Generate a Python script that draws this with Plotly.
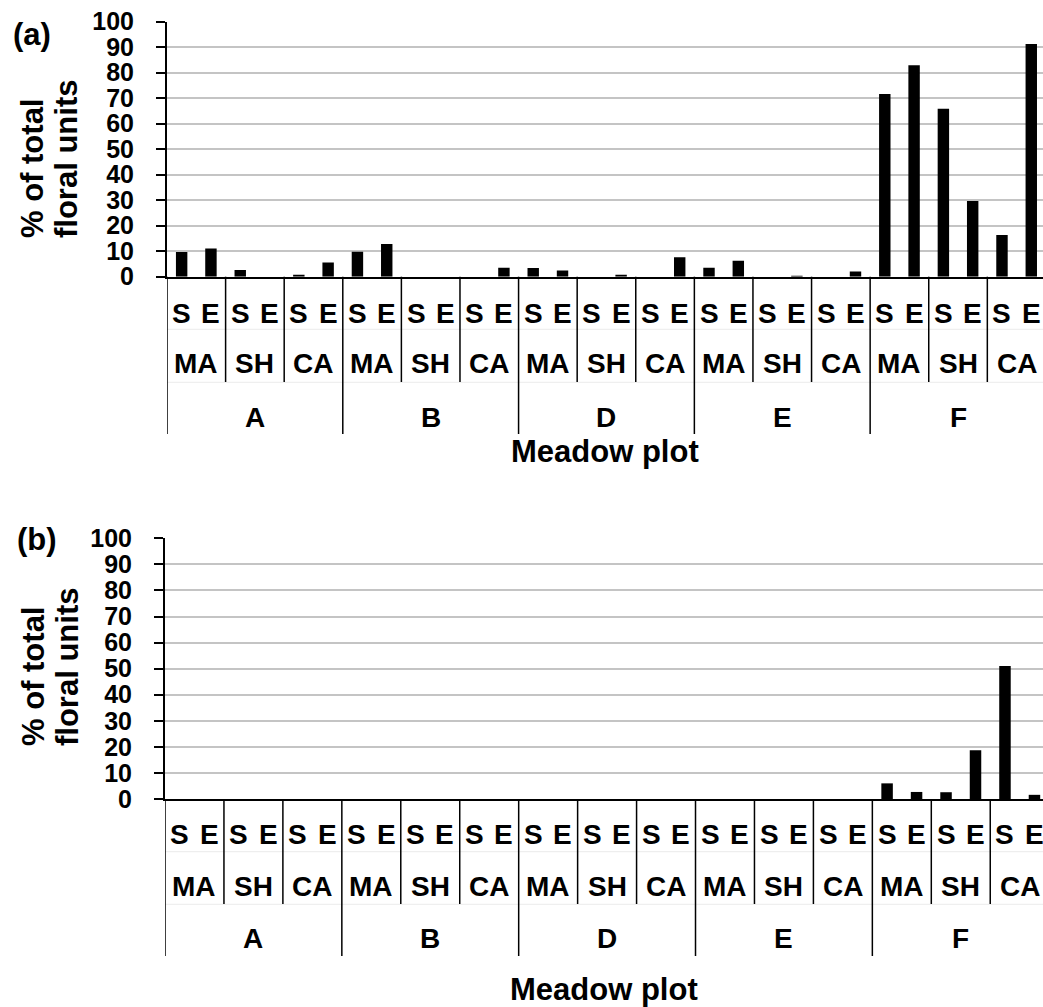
import plotly.graph_objects as go

# Category hierarchy along the x axis
plots = ["A", "B", "D", "E", "F"]
habitats = ["MA", "SH", "CA"]
periods = ["S", "E"]

# % of total floral units, ordered plot -> habitat -> period
pct_a = [9.7, 11.1, 2.6, 0.0, 0.5, 5.6,
         9.8, 12.8, 0.0, 0.0, 0.0, 3.5,
         3.4, 2.4, 0.0, 0.7, 0.0, 7.6,
         3.5, 6.3, 0.0, 0.2, 0.0, 2.0,
         71.6, 82.9, 65.9, 29.7, 16.4, 91.3]
pct_b = [0.0, 0.0, 0.0, 0.0, 0.0, 0.0,
         0.0, 0.0, 0.0, 0.0, 0.0, 0.0,
         0.0, 0.0, 0.0, 0.0, 0.0, 0.0,
         0.0, 0.0, 0.0, 0.0, 0.0, 0.0,
         6.0, 2.7, 2.6, 18.7, 51.0, 1.6]
y_ticks = [0, 10, 20, 30, 40, 50, 60, 70, 80, 90, 100]
panel_tags = ["(a)", "(b)"]
y_title = ["% of total", "floral units"]
x_title = "Meadow plot"

W, H = 1043, 1007
FONT = "Liberation Sans, Arial, sans-serif"


def py(p):
    return 1 - p / H


def px(p):
    return p / W


n_cat = len(plots) * len(habitats) * len(periods)
idx = list(range(n_cat))

panels = [
    dict(vals=pct_a, xa="x", ya="y", left=167, right_rng=29.4,
         top=21.7, base=276.7, rows=(313, 363.5, 417.5), title_y=451.5,
         sep=(329.3, 382.3), pair_end=382, group_end=434,
         tag=(32, 35), ytitle_bottom=240),
    dict(vals=pct_b, xa="x2", ya="y2", left=165, right_rng=29.29,
         top=538.3, base=799, rows=(834, 886.5, 938.5), title_y=989,
         sep=(851.7, 904.3), pair_end=904, group_end=956,
         tag=(37, 539), ytitle_bottom=748),
]

fig = go.Figure()
annotations = []
shapes = []
layout = {}

for k, p in enumerate(panels):
    fig.add_trace(go.Bar(
        x=idx, y=p["vals"], xaxis=p["xa"], yaxis=p["ya"],
        marker=dict(color="black", line=dict(width=0)),
        showlegend=False,
    ))
    xname = "xaxis" if k == 0 else "xaxis2"
    yname = "yaxis" if k == 0 else "yaxis2"
    layout[xname] = dict(
        domain=[px(p["left"]), 1], range=[-0.5, p["right_rng"]],
        anchor=p["ya"], showgrid=False, zeroline=False, automargin=False,
        showticklabels=False, ticks="", showline=True,
        linecolor="black", linewidth=2,
    )
    layout[yname] = dict(
        domain=[py(p["base"]), py(p["top"])], range=[0, 100],
        anchor=p["xa"], tickvals=y_ticks, ticks="outside", ticklen=9,
        tickwidth=1.5, tickcolor="black", showline=True,
        linecolor="black", linewidth=2, showgrid=True,
        gridcolor="#c4c4c4", gridwidth=1.5, zeroline=False,
        automargin=False, ticklabelstandoff=17,
        tickfont=dict(family=FONT, size=25, color="black", weight="bold"),
    )

    # period / habitat / plot labels under the bars
    r1, r2, r3 = p["rows"]
    for i in idx:
        annotations.append(dict(
            x=i, y=py(r1), xref=p["xa"], yref="paper",
            text=periods[i % 2], showarrow=False,
            xanchor="center", yanchor="middle",
            font=dict(family=FONT, size=28, color="black", weight="bold"),
        ))
    for j in range(len(plots) * len(habitats)):
        annotations.append(dict(
            x=2 * j + 0.5, y=py(r2), xref=p["xa"], yref="paper",
            text=habitats[j % 3], showarrow=False,
            xanchor="center", yanchor="middle",
            font=dict(family=FONT, size=28, color="black", weight="bold"),
        ))
    for g, name in enumerate(plots):
        annotations.append(dict(
            x=6 * g + 2.5, y=py(r3), xref=p["xa"], yref="paper",
            text=name, showarrow=False,
            xanchor="center", yanchor="middle",
            font=dict(family=FONT, size=28, color="black", weight="bold"),
        ))

    # faint row separators
    for s in p["sep"]:
        shapes.append(dict(
            type="line", xref=p["xa"], yref="paper",
            x0=-0.5, x1=p["right_rng"], y0=py(s), y1=py(s),
            line=dict(color="#ebebeb", width=1), layer="below",
        ))
    # divider lines between habitat pairs and plot groups
    for b in range(0, n_cat // 2):
        xb = 2 * b - 0.5
        end = p["group_end"] if b % 3 == 0 else p["pair_end"]
        shapes.append(dict(
            type="line", xref=p["xa"], yref="paper",
            x0=xb, x1=xb, y0=py(p["base"]), y1=py(end),
            line=dict(color="black", width=1.5),
        ))

    # axis titles and panel tag
    annotations.append(dict(
        x=(p["left"] + W) / 2 / W, y=py(p["title_y"]), xref="paper",
        yref="paper", text=x_title, showarrow=False,
        xanchor="center", yanchor="middle",
        font=dict(family=FONT, size=31, color="black", weight="bold"),
    ))
    for t, cx in zip(y_title, (33, 67)):
        annotations.append(dict(
            x=px(cx), y=py(p["ytitle_bottom"]), xref="paper", yref="paper",
            text=t, textangle=-90, showarrow=False,
            xanchor="center", yanchor="bottom",
            font=dict(family=FONT, size=31, color="black", weight="bold"),
        ))
    annotations.append(dict(
        x=px(p["tag"][0]), y=py(p["tag"][1]), xref="paper", yref="paper",
        text=panel_tags[k], showarrow=False,
        xanchor="center", yanchor="middle",
        font=dict(family=FONT, size=31, color="black", weight="bold"),
    ))

fig.update_layout(
    template="none",
    width=W, height=H,
    margin=dict(l=0, r=0, t=0, b=0, pad=0, autoexpand=False),
    paper_bgcolor="white", plot_bgcolor="white",
    bargap=0.61,
    annotations=annotations, shapes=shapes,
    **layout,
)

fig.write_html("out.html")
